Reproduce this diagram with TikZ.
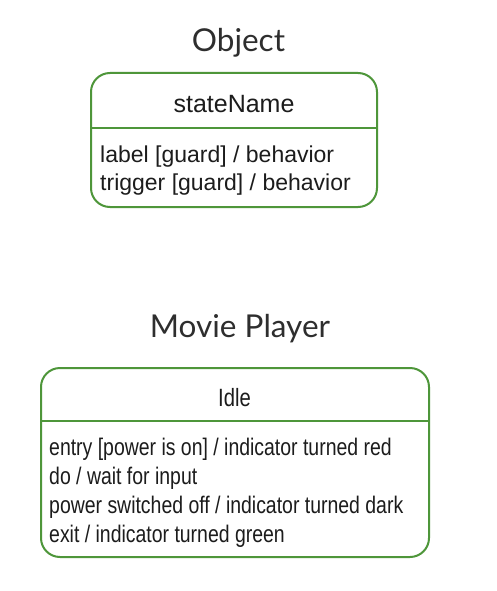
\documentclass[tikz,border=0pt]{standalone}
\usepackage{fontspec}
\setmainfont{Liberation Sans}
\newfontfamily\titlefont{Lato}
\newfontfamily\narrowfont[FakeStretch=0.81]{Liberation Sans}
\definecolor{stategreen}{RGB}{78,150,58}
\definecolor{inktext}{RGB}{28,28,28}

\begin{document}
\begin{tikzpicture}[x=1pt,y=-1pt,
  state box/.style={draw=stategreen,line width=2pt,rounded corners=19pt,
   fill=white,inner sep=0pt},
  state cut/.style={draw=stategreen,line width=2pt},
  diagram title/.style={font=\titlefont\fontsize{31.5}{36}\selectfont,
   text=black!82,anchor=base,inner sep=0pt},
  state name/.style={font=#1\fontsize{25}{30}\selectfont,
   text=inktext,anchor=base,inner sep=0pt},
  state name/.default=\rmfamily,
  state line/.style={font=#1\selectfont,
   text=inktext,anchor=base west,inner sep=0pt},
  state line/.default=\rmfamily\fontsize{23}{28}]
 \useasboundingbox[fill=white] (0,0) rectangle (497,591);
 % upper state: the generic notation
 \node[diagram title] (objtitle) at (238.5,52) {Object};
 \node[state box,minimum width=286pt,minimum height=134pt] (objbox) at (234,140) {};
 \coordinate (objcut) at (0,128);
 \draw[state cut] (objbox.west |- objcut) -- (objbox.east |- objcut);
 \node[state name] (objname) at (234,113) {stateName};
 \foreach \txt [count=\i] in {{label [guard] / behavior},{trigger [guard] / behavior}}
  \node[state line] (objline\i) at (100,{162+28*(\i-1)}) {\txt};
 % lower state: the movie player
 \node[diagram title] (movtitle) at (240,337) {Movie Player};
 \node[state box,minimum width=388pt,minimum height=189pt] (movbox) at (235,462.5) {};
 \coordinate (movcut) at (0,421);
 \draw[state cut] (movbox.west |- movcut) -- (movbox.east |- movcut);
 \node[state name=\narrowfont] (movname) at (234.5,406) {Idle};
 \foreach \txt [count=\i] in {{entry [power is on] / indicator turned red},
   {do / wait for input},{power switched off / indicator turned dark},
   {exit / indicator turned green}}
  \node[state line=\narrowfont\fontsize{24}{29}] (movline\i) at (49,{455+29.3*(\i-1)}) {\txt};
\end{tikzpicture}
\end{document}
